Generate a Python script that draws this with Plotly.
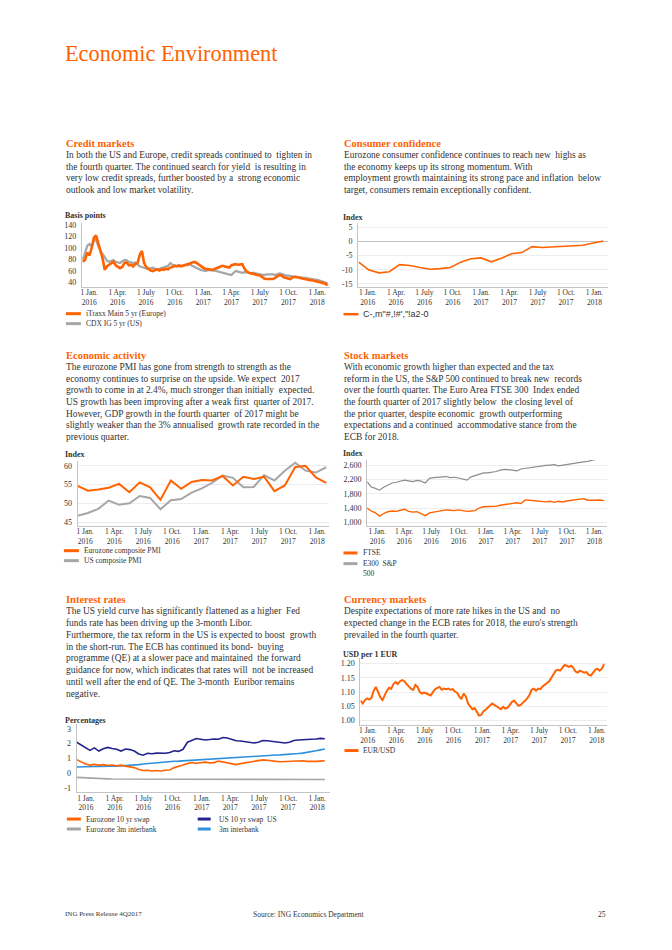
import plotly.graph_objects as go
import pandas as pd

W, H = 672, 950
ORANGE = "#FF6200"
GREY = "#A6A6A6"
NAVY = "#23238E"
LBLUE = "#2F8FDB"
TXT = "#333333"
AXIS = "#C4C4C4"
GRID = "#EDEDED"
SERIF = "Liberation Serif, Times New Roman, serif"
SANS = "Liberation Sans, Arial, sans-serif"

# ---------------- data ----------------
quarter_ticks = ["2016-01-01", "2016-04-01", "2016-07-01", "2016-10-01", "2017-01-01",
                 "2017-04-01", "2017-07-01", "2017-10-01", "2018-01-01"]
quarter_labels = ["1 Jan.<br>2016", "1 Apr.<br>2016", "1 July<br>2016", "1 Oct.<br>2016",
                  "1 Jan.<br>2017", "1 Apr.<br>2017", "1 July<br>2017", "1 Oct.<br>2017",
                  "1 Jan.<br>2018"]

# y-axis tick values / labels per chart
credit_yticks = [40, 60, 80, 100, 120, 140]
credit_ylabels = ["40", "60", "80", "100", "120", "140"]
conf_yticks = [-15, -10, -5, 0, 5]
conf_ylabels = ["-15", "-10", "-5", "0", "5"]
pmi_yticks = [45, 50, 55, 60]
pmi_ylabels = ["45", "50", "55", "60"]
stock_yticks = [1000, 1400, 1800, 2200, 2600]
stock_ylabels = ["1,000", "1,400", "1,800", "2,200", "2,600"]
rates_yticks = [-1, 0, 1, 2, 3]
rates_ylabels = ["-1", "0", "1", "2", "3"]
fx_yticks = [1.00, 1.05, 1.10, 1.15, 1.20]
fx_ylabels = ["1.00", "1.05", "1.10", "1.15", "1.20"]

# Credit markets (weekly, basis points)
credit_start = "2015-12-12"
itraxx = [76, 80, 92, 87, 100, 118, 122, 108, 94, 82, 62, 68, 71, 73, 76, 70, 68, 65, 67, 74,
          75, 70, 71, 68, 72, 74, 88, 95, 74, 67, 64, 61, 60, 62, 63, 61, 63, 62, 64, 63,
          66, 67, 69, 68, 70, 68, 69, 71, 72, 73, 75, 76, 74, 71, 68, 66, 64, 63, 62, 62,
          63, 64, 66, 68, 69, 68, 67, 66, 70, 71, 72, 71, 71, 72, 64, 59, 57, 56, 55, 55,
          54, 52, 50, 47, 46, 46, 47, 46, 48, 50, 53, 52, 49, 48, 47, 46, 49, 50, 49, 48,
          47, 47, 46, 45, 44, 44, 43, 43, 42, 41, 40, 38, 35]
cdx = [80, 92, 104, 107, 103, 112, 115, 104, 95, 90, 84, 78, 76, 78, 79, 76, 75, 74, 77, 79,
       79, 76, 75, 74, 75, 72, 68, 67, 66, 64, 63, 65, 66, 64, 63, 64, 65, 66, 68, 69,
       74, 71, 70, 69, 68, 69, 70, 71, 70, 72, 69, 67, 65, 63, 62, 61, 60, 61, 62, 61,
       61, 60, 59, 58, 57, 56, 55, 54, 53, 57, 60, 59, 58, 57, 58, 58, 57, 56, 57, 56,
       55, 55, 54, 53, 54, 54, 55, 54, 53, 55, 56, 55, 53, 52, 52, 51, 51, 50, 50, 49,
       48, 48, 48, 47, 47, 46, 45, 45, 44, 42, 41, 40, 38]

# Consumer confidence (monthly index)
conf_start = "2016-01-01"
consumer_conf = [-7.3, -10.1, -11.1, -10.7, -8.2, -8.5, -9.2, -9.8, -9.6, -9.2, -7.3, -6.1,
                 -5.8, -7.2, -5.9, -4.3, -3.9, -1.8, -2.1, -1.9, -1.6, -1.4, -1.3, -0.5, 0.2]

# Composite PMIs (monthly)
pmi_start = "2016-01-01"
ez_pmi = [54.7, 53.4, 53.7, 54.2, 55.2, 53.0, 55.6, 54.3, 51.0, 56.1, 53.9, 55.7, 56.2,
          56.1, 57.3, 54.8, 57.1, 56.5, 57.1, 53.3, 54.8, 59.6, 60.0, 56.9, 55.5]
us_pmi = [46.8, 47.5, 48.6, 50.8, 49.7, 50.1, 52.0, 51.5, 48.5, 50.9, 51.2, 52.9, 54.0,
          55.5, 57.4, 56.8, 54.3, 54.4, 57.5, 56.1, 58.7, 60.8, 58.7, 58.2, 59.6]

# Stock markets (two-weekly, index)
stock_start = "2015-11-28"
ftse_e300 = [1400, 1320, 1270, 1180, 1250, 1300, 1320, 1310, 1340, 1370,
             1310, 1290, 1300, 1240, 1190, 1270, 1300, 1310, 1330, 1350,
             1340, 1330, 1350, 1320, 1310, 1320, 1330, 1410, 1440, 1445,
             1440, 1450, 1480, 1500, 1520, 1540, 1550, 1530, 1630, 1620,
             1610, 1600, 1590, 1575, 1590, 1560, 1590, 1570, 1600, 1620,
             1630, 1640, 1665, 1620, 1610, 1620, 1625, 1610]
sp500 = [2137, 1990, 1950, 1900, 1980, 2050, 2100, 2120, 2150, 2180,
         2160, 2140, 2170, 2150, 2100, 2230, 2250, 2265, 2270, 2280,
         2250, 2260, 2240, 2220, 2180, 2270, 2300, 2330, 2380, 2380,
         2390, 2420, 2460, 2480, 2470, 2450, 2440, 2490, 2510, 2520,
         2540, 2560, 2570, 2590, 2600, 2610, 2580, 2600, 2630, 2650,
         2660, 2680, 2690, 2700, 2720, 2760, 2790, 2810]

# Interest rates (two-weekly, %)
rates_start = "2015-12-03"
eur_swap10 = [0.92, 0.75, 0.62, 0.55, 0.60, 0.55, 0.58, 0.52, 0.56, 0.50,
              0.55, 0.48, 0.45, 0.38, 0.25, 0.18, 0.20, 0.15, 0.18, 0.15,
              0.20, 0.22, 0.38, 0.45, 0.55, 0.65, 0.72, 0.68, 0.72, 0.75,
              0.70, 0.72, 0.82, 0.75, 0.72, 0.65, 0.58, 0.65, 0.70, 0.72,
              0.75, 0.80, 0.90, 0.88, 0.82, 0.80, 0.78, 0.80, 0.78, 0.82,
              0.86, 0.84, 0.80, 0.78, 0.80, 0.82, 0.84]
euribor3m = [-0.28, -0.30, -0.31, -0.33, -0.35, -0.36, -0.37, -0.38, -0.39, -0.39,
             -0.40, -0.40, -0.41, -0.41, -0.41, -0.42, -0.42, -0.42, -0.42, -0.42,
             -0.42, -0.42, -0.42, -0.42, -0.42, -0.42, -0.42, -0.42, -0.42, -0.42,
             -0.42, -0.43, -0.43, -0.43, -0.43, -0.43, -0.43, -0.43, -0.43, -0.43,
             -0.43, -0.43, -0.43, -0.43, -0.43, -0.43, -0.43, -0.43, -0.43, -0.43,
             -0.43, -0.43, -0.43, -0.43, -0.43, -0.43, -0.43]
us_swap10 = [2.10, 1.92, 1.70, 1.55, 1.72, 1.50, 1.65, 1.75, 1.68, 1.62,
             1.50, 1.64, 1.60, 1.50, 1.30, 1.22, 1.35, 1.32, 1.36, 1.33,
             1.35, 1.40, 1.52, 1.48, 1.62, 2.10, 2.22, 2.35, 2.30, 2.25,
             2.28, 2.32, 2.30, 2.42, 2.38, 2.28, 2.20, 2.18, 2.12, 2.10,
             2.05, 2.10, 2.22, 2.20, 2.15, 2.12, 2.10, 2.05, 2.10, 2.22,
             2.25, 2.26, 2.25, 2.30, 2.32, 2.36, 2.33]
libor3m = [0.42, 0.44, 0.45, 0.45, 0.45, 0.46, 0.46, 0.46, 0.47, 0.48,
           0.50, 0.52, 0.53, 0.55, 0.58, 0.62, 0.65, 0.70, 0.73, 0.75,
           0.78, 0.80, 0.81, 0.82, 0.84, 0.86, 0.88, 0.90, 0.92, 0.93,
           0.95, 0.97, 1.00, 1.03, 1.05, 1.08, 1.10, 1.12, 1.14, 1.16,
           1.18, 1.20, 1.21, 1.22, 1.22, 1.23, 1.24, 1.25, 1.27, 1.30,
           1.33, 1.36, 1.40, 1.45, 1.52, 1.58, 1.64]

# EUR/USD (weekly)
fx_start = "2015-12-09"
eurusd = [1.070, 1.060, 1.072, 1.078, 1.074, 1.080, 1.105, 1.118, 1.100, 1.082,
          1.072, 1.090, 1.105, 1.115, 1.112, 1.128, 1.135, 1.128, 1.138, 1.142,
          1.138, 1.128, 1.120, 1.112, 1.108, 1.125, 1.118, 1.100, 1.095, 1.098,
          1.095, 1.090, 1.088, 1.100, 1.110, 1.115, 1.118, 1.108, 1.112, 1.110,
          1.112, 1.108, 1.110, 1.102, 1.098, 1.085, 1.075, 1.095, 1.085, 1.060,
          1.048, 1.040, 1.044, 1.030, 1.018, 1.020, 1.032, 1.038, 1.045, 1.052,
          1.060, 1.055, 1.050, 1.045, 1.040, 1.048, 1.042, 1.045, 1.055, 1.065,
          1.070, 1.060, 1.052, 1.055, 1.062, 1.070, 1.078, 1.090, 1.108, 1.112,
          1.105, 1.112, 1.110, 1.120, 1.125, 1.130, 1.138, 1.150, 1.165, 1.175,
          1.178, 1.175, 1.185, 1.195, 1.192, 1.188, 1.192, 1.185, 1.172, 1.168,
          1.175, 1.170, 1.168, 1.170, 1.160, 1.158, 1.168, 1.178, 1.182, 1.175,
          1.182, 1.198]

# ---------------- text ----------------
title = "Economic Environment"
sections = [
    (63, 142, 154, 11.5, "Credit markets", [
        "In both the US and Europe, credit spreads continued to  tighten in",
        "the fourth quarter. The continued search for yield  is resulting in",
        "very low credit spreads, further boosted by a  strong economic",
        "outlook and low market volatility."]),
    (342, 142, 154, 11.5, "Consumer confidence", [
        "Eurozone consumer confidence continues to reach new  highs as",
        "the economy keeps up its strong momentum. With",
        "employment growth maintaining its strong pace and inflation  below",
        "target, consumers remain exceptionally confident."]),
    (63, 355, 366.8, 11.65, "Economic activity", [
        "The eurozone PMI has gone from strength to strength as the",
        "economy continues to surprise on the upside. We expect  2017",
        "growth to come in at 2.4%, much stronger than initially  expected.",
        "US growth has been improving after a weak first  quarter of 2017.",
        "However, GDP growth in the fourth quarter  of 2017 might be",
        "slightly weaker than the 3% annualised  growth rate recorded in the",
        "previous quarter."]),
    (342, 355, 366.8, 11.65, "Stock markets", [
        "With economic growth higher than expected and the tax",
        "reform in the US, the S&P 500 continued to break new  records",
        "over the fourth quarter. The Euro Area FTSE 300  Index ended",
        "the fourth quarter of 2017 slightly below  the closing level of",
        "the prior quarter, despite economic  growth outperforming",
        "expectations and a continued  accommodative stance from the",
        "ECB for 2018."]),
    (63, 600, 612, 11.8, "Interest rates", [
        "The US yield curve has significantly flattened as a higher  Fed",
        "funds rate has been driving up the 3-month Libor.",
        "Furthermore, the tax reform in the US is expected to boost  growth",
        "in the short-run. The ECB has continued its bond-  buying",
        "programme (QE) at a slower pace and maintained  the forward",
        "guidance for now, which indicates that rates will  not be increased",
        "until well after the end of QE. The 3-month  Euribor remains",
        "negative."]),
    (342, 600, 612, 11.8, "Currency markets", [
        "Despite expectations of more rate hikes in the US and  no",
        "expected change in the ECB rates for 2018, the euro's strength",
        "prevailed in the fourth quarter."]),
]


# ---------------- helpers ----------------
def X(p):
    return p / W


def Y(p):
    return 1 - p / H


def lin(p, p1, v1, p2, v2):
    return v1 + (p - p1) * (v2 - v1) / (p2 - p1)


def date_range(left, right, p1, p2, d1="2016-01-01", d2="2018-01-01"):
    t1, t2 = pd.Timestamp(d1).value, pd.Timestamp(d2).value
    return [pd.Timestamp(int(lin(left, p1, t1, p2, t2))).strftime("%Y-%m-%d %H:%M:%S"),
            pd.Timestamp(int(lin(right, p1, t1, p2, t2))).strftime("%Y-%m-%d %H:%M:%S")]


fig = go.Figure()
layout_axes = {}
annotations = []
shapes = []


def add_axes(n, xl, xr, xrange, xtype, xtickvals, ytop, ybot, yrange, ytickvals,
             yticktext, grid=False, zero=False, xstand=-2):
    sfx = "" if n == 1 else str(n)
    layout_axes["xaxis" + sfx] = dict(
        domain=[X(xl), X(xr)], anchor="y" + sfx, range=xrange, type=xtype,
        tickmode="array", tickvals=xtickvals, ticktext=quarter_labels,
        showline=True, linecolor=AXIS, linewidth=1, ticks="", showgrid=False,
        zeroline=False, ticklabelstandoff=xstand,
        tickfont=dict(family=SERIF, size=7.5, color=TXT), fixedrange=True)
    layout_axes["yaxis" + sfx] = dict(
        domain=[Y(ybot), Y(ytop)], anchor="x" + sfx, range=yrange,
        tickmode="array", tickvals=ytickvals, ticktext=yticktext,
        showline=True, linecolor=AXIS, linewidth=1, ticks="", showgrid=grid,
        gridcolor=GRID, gridwidth=1, zeroline=zero, zerolinecolor="#C2C2C2",
        zerolinewidth=1, ticklabelstandoff=3,
        tickfont=dict(family=SERIF, size=8, color=TXT), fixedrange=True)


def line(n, x, y, color, width):
    sfx = "" if n == 1 else str(n)
    fig.add_trace(go.Scatter(x=x, y=y, mode="lines", xaxis="x" + sfx, yaxis="y" + sfx,
                             line=dict(color=color, width=width), showlegend=False,
                             hoverinfo="skip"))


def txt(x, y, s, size=9.4, color=TXT, bold=False, family=SERIF):
    annotations.append(dict(x=X(x), y=Y(y), xref="paper", yref="paper",
                            text=f"<b>{s}</b>" if bold else s, showarrow=False,
                            xanchor="left", yanchor="middle",
                            font=dict(family=family, size=size, color=color)))


def legend_item(x0, x1, y, color, width, label, tx, family=SERIF, size=7.5):
    shapes.append(dict(type="line", xref="paper", yref="paper", x0=X(x0), x1=X(x1),
                       y0=Y(y), y1=Y(y), line=dict(color=color, width=width)))
    txt(tx, y, label, size=size, family=family)


# ---------------- chart 1: credit ----------------
credit_dates = pd.date_range(credit_start, periods=len(itraxx), freq="7D")
add_axes(1, 81, 329, date_range(81, 329, 88.3, 316.7), "date", quarter_ticks,
         222, 286, [lin(286, 224, 140, 281.7, 40), lin(222, 224, 140, 281.7, 40)],
         credit_yticks, credit_ylabels)
line(1, credit_dates, cdx, GREY, 2.2)
line(1, credit_dates, itraxx, ORANGE, 2.6)

# ---------------- chart 2: consumer confidence ----------------
conf_months = pd.date_range(conf_start, periods=len(consumer_conf), freq="MS")
conf_idx = list(range(len(conf_months)))
c_p0, c_p1 = 358.3, 603.3
conf_ticks = [lin(367.3 + 28.375 * k, c_p0, 0, c_p1, len(conf_idx) - 1) for k in range(9)]
add_axes(2, 357.7, 608, [lin(357.7, c_p0, 0, c_p1, len(conf_idx) - 1),
                         lin(608, c_p0, 0, c_p1, len(conf_idx) - 1)], "linear", conf_ticks,
         222, 286, [lin(286, 226.5, 5, 283, -15), lin(222, 226.5, 5, 283, -15)],
         conf_yticks, conf_ylabels, grid=True, zero=True)
line(2, conf_idx, consumer_conf, ORANGE, 1.6)

# ---------------- chart 3: PMI ----------------
pmi_months = pd.date_range(pmi_start, periods=len(ez_pmi), freq="MS")
pmi_idx = list(range(len(pmi_months)))
p_p0, p_p1 = 76.7, 325.7
pmi_ticks = [lin(84.3 + 29.05 * k, p_p0, 0, p_p1, len(pmi_idx) - 1) for k in range(9)]
add_axes(3, 76.7, 328, [lin(76.7, p_p0, 0, p_p1, len(pmi_idx) - 1),
                        lin(328, p_p0, 0, p_p1, len(pmi_idx) - 1)], "linear", pmi_ticks,
         461, 526, [lin(526, 465.7, 60, 522.7, 45), lin(461, 465.7, 60, 522.7, 45)],
         pmi_yticks, pmi_ylabels, grid=True)
line(3, pmi_idx, us_pmi, GREY, 2.0)
line(3, pmi_idx, ez_pmi, ORANGE, 2.0)

# ---------------- chart 4: stocks ----------------
stock_dates = pd.date_range(stock_start, periods=len(sp500), freq="14D")
add_axes(4, 366.7, 607, date_range(366.7, 607, 376.7, 594.3), "date", quarter_ticks,
         460, 526, [lin(526, 465, 2600, 522.7, 1000), lin(460, 465, 2600, 522.7, 1000)],
         stock_yticks, stock_ylabels, grid=True)
line(4, stock_dates, sp500, "#8C8C8C", 1.2)
line(4, stock_dates, ftse_e300, ORANGE, 1.4)

# ---------------- chart 5: interest rates ----------------
rates_dates = pd.date_range(rates_start, periods=len(us_swap10), freq="14D")
add_axes(5, 75.7, 329, date_range(75.7, 329, 85, 316.7), "date", quarter_ticks,
         725, 793, [lin(793, 730, 3, 789.3, -1), lin(725, 730, 3, 789.3, -1)],
         rates_yticks, rates_ylabels, xstand=-1)
line(5, rates_dates, euribor3m, GREY, 1.6)
line(5, rates_dates, libor3m, LBLUE, 1.6)
line(5, rates_dates, eur_swap10, ORANGE, 1.6)
line(5, rates_dates, us_swap10, NAVY, 1.6)

# ---------------- chart 6: EUR/USD ----------------
fx_dates = pd.date_range(fx_start, periods=len(eurusd), freq="7D")
add_axes(6, 360, 607, date_range(360, 607, 367.3, 596.7), "date", quarter_ticks,
         659, 726, [lin(726, 664.3, 1.20, 721.7, 1.00), lin(659, 664.3, 1.20, 721.7, 1.00)],
         fx_yticks, fx_ylabels, grid=True)
line(6, fx_dates, eurusd, ORANGE, 2.0)

# ---------------- text ----------------
txt(62, 52, title, size=22.3, color=ORANGE)
for x0, yh, y0, dy, head, lines in sections:
    txt(x0, yh, head, size=10.5, color=ORANGE, bold=True)
    for i, s in enumerate(lines):
        txt(x0, y0 + i * dy, s, size=9.4)

txt(62, 214, "Basis points", size=8, bold=True)
txt(341, 216, "Index", size=8, bold=True)
txt(62, 454, "Index", size=8, bold=True)
txt(341, 453, "Index", size=8, bold=True)
txt(62, 721.5, "Percentages", size=8, bold=True)
txt(341, 655, "USD per 1 EUR", size=8, bold=True)

legend_item(65, 80, 313, ORANGE, 3, "iTraxx Main 5 yr (Europe)", 83)
legend_item(65, 80, 323, GREY, 3, "CDX IG 5 yr (US)", 83)
legend_item(343, 358, 313.5, ORANGE, 2.5, "C-,m\"#,!#',\"!a2-0", 361, family=SANS, size=9)
legend_item(63, 78, 551, ORANGE, 3, "Eurozone composite PMI", 81)
legend_item(63, 78, 561, GREY, 3, "US composite PMI", 81)
legend_item(343, 357, 553.3, ORANGE, 3, "FTSE", 361)
legend_item(343, 357, 564, GREY, 3, "E300  S&P", 361)
txt(361, 574, "500", size=7.5)
legend_item(66, 80, 820.5, ORANGE, 3, "Eurozone 10 yr swap", 83)
legend_item(66, 80, 830.5, GREY, 3, "Eurozone 3m interbank", 83)
legend_item(197, 210, 820.5, NAVY, 3, "US 10 yr swap  US", 216)
legend_item(197, 210, 830.5, LBLUE, 3, "3m interbank", 216)
legend_item(344, 358, 751.7, ORANGE, 3, "EUR/USD", 361)

txt(62, 916, "ING Press Release 4Q2017", size=7)
txt(250, 916, "Source: ING Economics Department", size=7.5)
txt(596, 916, "25", size=7.5)

fig.update_layout(width=W, height=H, autosize=False,
                  margin=dict(l=0, r=0, t=0, b=0, pad=0),
                  paper_bgcolor="white", plot_bgcolor="white",
                  showlegend=False, annotations=annotations, shapes=shapes,
                  **layout_axes)

fig.write_html("out.html", config={"displayModeBar": False},
               post_script="document.body.style.margin='0';document.body.style.overflow='hidden';")
